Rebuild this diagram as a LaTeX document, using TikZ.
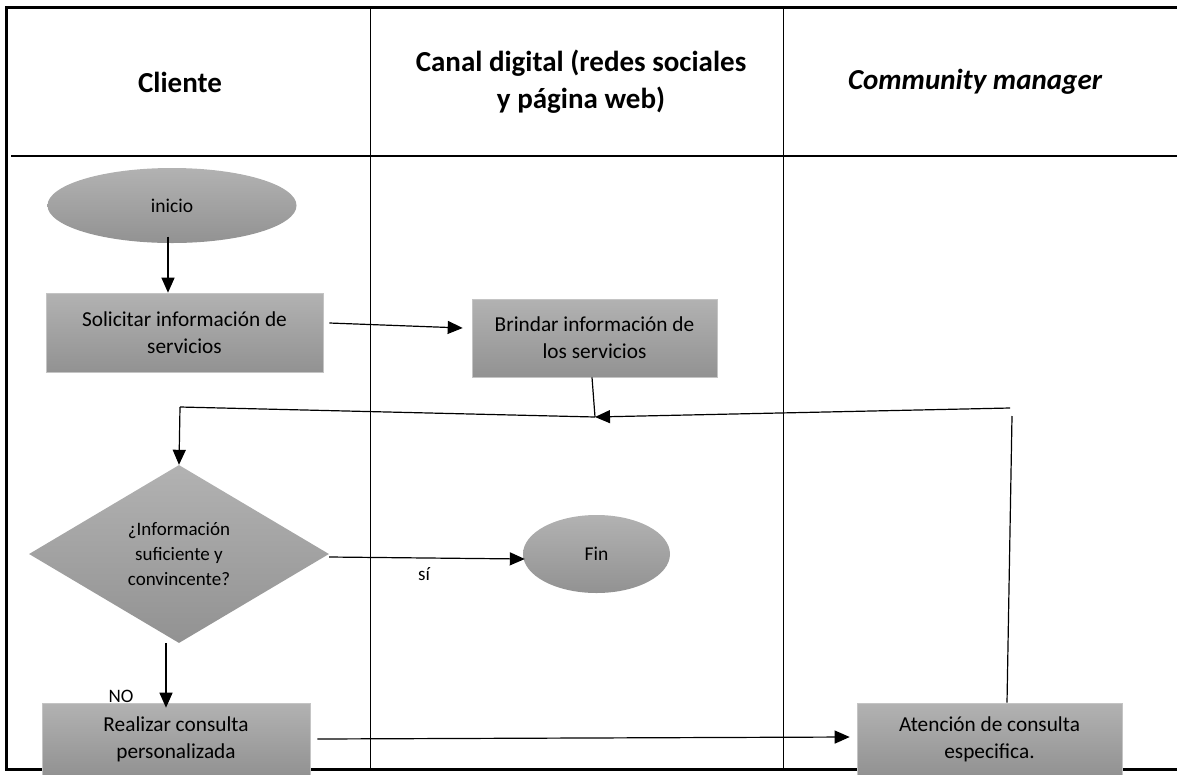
\documentclass[tikz,border=0pt]{standalone}
\usepackage{fontspec}
\setmainfont{Carlito}
\usetikzlibrary{shapes.geometric,arrows.meta}
\definecolor{gtop}{RGB}{178,178,178}
\definecolor{gbot}{RGB}{146,146,146}
\definecolor{gedge}{RGB}{196,196,196}
\tikzset{
  procbox/.style={rectangle, top color=gtop, bottom color=gbot, draw=gedge, line width=0.6pt,
    inner sep=0pt, align=center, font=\fontsize{21.3}{27}\selectfont},
  termell/.style={ellipse, top color=gtop, bottom color=gbot, draw=none,
    inner sep=0pt, align=center, font=\fontsize{19.5}{24}\selectfont},
  decdia/.style={diamond, top color=gtop, bottom color=gbot, draw=none,
    inner sep=0pt, align=center, font=\fontsize{19}{25}\selectfont},
  hdr/.style={align=center, font=\fontsize{29}{37}\selectfont\bfseries},
  lbl/.style={font=\fontsize{19}{23}\selectfont},
  conn/.style={line width=1.2pt},
  arr/.style={line width=1.2pt, -{Triangle[length=15pt,width=13pt]}},
}
\begin{document}
\begin{tikzpicture}[x=1pt,y=-1pt]
\useasboundingbox (0,0) rectangle (1177,774);
% frame and lanes
\draw[line width=2.5pt] (1177,7.5) -- (6.5,7.5) -- (6.5,769.5) -- (1177,769.5);
\draw[line width=1.4pt] (11,156) -- (1177,156);
\draw[line width=0.9pt] (370,7) -- (370,770);
\draw[line width=0.9pt] (783,7) -- (783,770);
% headers
\node[hdr] (h1) at (180,82) {Cliente};
\node[hdr] (h2) at (581,82) {Canal digital (redes sociales\\y página web)};
\node[hdr] (h3) at (975,82) {\itshape Community manager};
% nodes
\node[termell, minimum width=249pt, minimum height=75pt] (ini) at (172,205.5) {inicio};
\node[procbox, minimum width=277pt, minimum height=79pt] (sol) at (184.5,332.5) {Solicitar información de\\servicios};
\node[procbox, minimum width=245pt, minimum height=78pt] (bri) at (594.5,338) {Brindar información de\\los servicios};
\node[decdia, minimum width=300pt, minimum height=178pt] (dec) at (179,554) {¿Información\\suficiente y\\convincente?};
\node[termell, minimum width=147pt, minimum height=78pt] (fin) at (596.5,554) {Fin};
\node[procbox, minimum width=268pt, minimum height=72pt] (rea) at (176,739) {Realizar consulta\\personalizada};
\node[procbox, minimum width=265pt, minimum height=72pt] (ate) at (989.5,739) {Atención de consulta\\especifica.};
% free connector points
\coordinate (J) at (595,417);
\coordinate (L) at (180,407);
\coordinate (R) at (1010,408);
\coordinate (V) at (1012,416);
% connectors
\draw[arr] ([xshift=-4pt,yshift=6.5pt]ini.south) -- ([xshift=-16.5pt]sol.north);
\draw[arr] ([xshift=6pt,yshift=9.5pt]sol.east) -- ([xshift=-9pt,yshift=10pt]bri.west);
\draw[conn] ([xshift=-2.5pt]bri.south) -- (J);
\draw[arr] (R) -- (J);
\draw[conn] (J) -- (L);
\draw[arr] (L) -- (dec.north);
\draw[arr] ([yshift=-3pt]dec.east) -- ([xshift=2pt,yshift=-5pt]fin.west);
\draw[arr] ([xshift=-13pt]dec.south) -- ([xshift=-10pt,yshift=-5pt]rea.north);
\draw[arr] ([xshift=7pt]rea.east) -- ([xshift=-7pt,yshift=2pt]ate.west);
\draw[conn] ([xshift=17.5pt]ate.north) -- (V);
% labels
\node[lbl] (si) at (424,574) {sí};
\node[lbl] (no) at (121,696) {NO};
\end{tikzpicture}
\end{document}
